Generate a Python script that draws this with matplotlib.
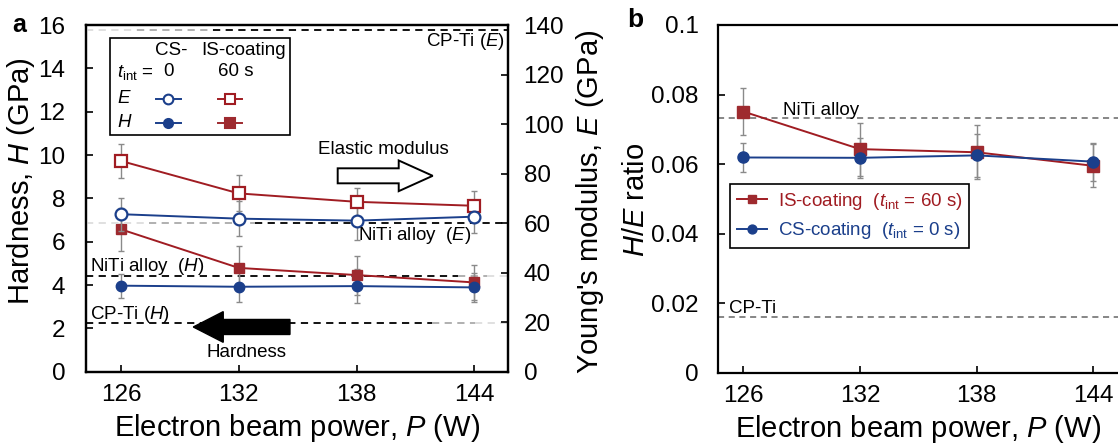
import matplotlib
matplotlib.use("Agg")
import matplotlib.pyplot as plt
from matplotlib.patches import FancyArrow, Rectangle
from matplotlib.lines import Line2D

plt.rcParams['font.family'] = ['Liberation Sans', 'DejaVu Sans']
plt.rcParams['mathtext.fontset'] = 'custom'
plt.rcParams['mathtext.rm'] = 'Liberation Sans'
plt.rcParams['mathtext.it'] = 'Liberation Sans:italic'
plt.rcParams['mathtext.bf'] = 'Liberation Sans:bold'

# ---------------- data ----------------
power = [126, 132, 138, 144]
E_is = [85.1, 72.0, 68.6, 67.0]
E_is_err = [6.8, 7.3, 5.6, 6.1]
E_cs = [63.6, 61.8, 61.0, 62.6]
E_cs_err = [6.7, 7.0, 7.8, 6.7]
H_is = [6.57, 4.79, 4.46, 4.12]
H_is_err = [1.0, 1.0, 0.9, 0.8]
H_cs = [3.97, 3.92, 3.95, 3.89]
H_cs_err = [0.55, 0.7, 0.8, 0.66]
HE_is = [0.0751, 0.0643, 0.0634, 0.0595]
HE_is_err = [0.0068, 0.0076, 0.0077, 0.0062]
HE_cs = [0.0619, 0.0618, 0.0625, 0.0607]
HE_cs_err = [0.0042, 0.0057, 0.0061, 0.0055]
ref_E = {'CP-Ti': 138, 'NiTi alloy': 60}
ref_H = {'NiTi alloy': 4.43, 'CP-Ti': 2.23}
ref_HE = {'NiTi alloy': 0.0732, 'CP-Ti': 0.0159}
H_ticks = [0, 2, 4, 6, 8, 10, 12, 14, 16]
E_ticks = [0, 20, 40, 60, 80, 100, 120, 140]
HE_ticks = [0, 0.02, 0.04, 0.06, 0.08, 0.1]
HE_ticklabels = ['0', '0.02', '0.04', '0.06', '0.08', '0.1']

RED = '#A01C22'
RED_F = '#9E2A2F'
BLUE = '#1B3F8B'
GRAY = '#8a8a8a'
TICK_FS = 17.5
LAB_FS = 21
ANN_FS = 13.5

fig = plt.figure(figsize=(11.18, 4.43), dpi=100)
axA = fig.add_axes([86/1118, (443-371.7)/443, 422.3/1118, 346.7/443])
axE = axA.twinx()
axB = fig.add_axes([718.3/1118, (443-372.7)/443, (1118-718.3)/1118, 347.7/443])

# ---------------- panel a ----------------
axA.set_xlim(124.22, 145.73)
axA.set_ylim(0, 16)
axE.set_ylim(0, 140)


def dashed(ax, y, segs, lw=1.3):
    for x0, x1, c in segs:
        ax.axhline(y, xmin=x0, xmax=x1, color=c, ls=(0, (4, 3)), lw=lw, zorder=1)


dashed(axE, ref_E['CP-Ti'], [(0, 0.12, '#dddddd'), (0.12, 0.3, '#aaaaaa'), (0.3, 1, 'black')])
dashed(axE, ref_E['NiTi alloy'], [(0, 0.15, '#dddddd'), (0.15, 0.4, '#aaaaaa'), (0.4, 1, 'black')])
dashed(axA, ref_H['NiTi alloy'], [(0, 0.88, 'black'), (0.88, 0.95, '#aaaaaa'), (0.95, 1, '#dddddd')])
dashed(axA, ref_H['CP-Ti'], [(0, 0.82, 'black'), (0.82, 0.92, '#aaaaaa'), (0.92, 1, '#dddddd')])

ekw = dict(fmt='none', ecolor=GRAY, elinewidth=1.0, capsize=2.5, capthick=1.0, zorder=2)
axA.errorbar(power, H_is, yerr=H_is_err, **ekw)
axA.errorbar(power, H_cs, yerr=H_cs_err, **ekw)
axE.errorbar(power, E_is, yerr=E_is_err, **ekw)
axE.errorbar(power, E_cs, yerr=E_cs_err, **ekw)

axA.plot(power, H_is, color=RED, lw=1.4, marker='s', ms=7.5, mfc=RED_F, mec=RED_F, zorder=3)
axA.plot(power, H_cs, color=BLUE, lw=1.4, marker='o', ms=7.5, mfc=BLUE, mec=BLUE, zorder=3)
axE.plot(power, E_is, color=RED, lw=1.4, marker='s', ms=9, mfc='white', mec=RED, mew=1.6, zorder=3)
axE.plot(power, E_cs, color=BLUE, lw=1.4, marker='o', ms=8.5, mfc='white', mec=BLUE, mew=1.6, zorder=3)

axA.set_xticks(power)
axA.set_yticks(H_ticks)
axE.set_yticks(E_ticks)
for ax in (axA, axE):
    ax.tick_params(direction='in', length=5, width=1.2, labelsize=TICK_FS)
axA.tick_params(axis='y', pad=15)
axA.tick_params(axis='x', pad=9)
axE.tick_params(axis='y', pad=11)
axA.tick_params(top=False)
for ax in (axA, axE):
    for s in ax.spines.values():
        s.set_linewidth(1.6)

axA.set_xlabel('Electron beam power, $P$ (W)', fontsize=LAB_FS, labelpad=4)
axA.set_ylabel('Hardness, $H$ (GPa)', fontsize=LAB_FS)
axA.yaxis.set_label_coords(-0.117, 0.55)
axE.set_ylabel("Young's modulus, $E$ (GPa)", fontsize=LAB_FS, rotation=90)
axE.yaxis.set_label_coords(1.155, 0.49)

# annotations
axE.text(0.992, 0.952, 'CP-Ti ($E$)', transform=axA.transAxes, ha='right', va='center', fontsize=ANN_FS)
axE.text(0.913, 0.394, 'NiTi alloy  ($E$)', transform=axA.transAxes, ha='right', va='center', fontsize=ANN_FS, zorder=5)
axE.text(0.0095, 0.303, 'NiTi alloy  ($H$)', transform=axA.transAxes, ha='left', va='center', fontsize=ANN_FS)
axE.text(0.0095, 0.166, 'CP-Ti ($H$)', transform=axA.transAxes, ha='left', va='center', fontsize=ANN_FS)
axE.text(0.703, 0.641, 'Elastic modulus', transform=axA.transAxes, ha='center', va='center', fontsize=ANN_FS)
axE.text(0.379, 0.056, 'Hardness', transform=axA.transAxes, ha='center', va='center', fontsize=ANN_FS)

axE.add_patch(FancyArrow(0.596, 0.565, 0.225, 0, width=0.0433, head_width=0.0885, head_length=0.0805,
                         length_includes_head=True, transform=axA.transAxes, facecolor='white',
                         edgecolor='black', lw=1.4, zorder=4))
axE.add_patch(FancyArrow(0.483, 0.129, -0.229, 0, width=0.0433, head_width=0.0885, head_length=0.071,
                         length_includes_head=True, transform=axA.transAxes, facecolor='black',
                         edgecolor='black', lw=1.0, zorder=4))

# custom legend for panel a
LEG_FS = 13.5
axE.add_patch(Rectangle((0.0568, 0.683), 0.483-0.0568, 0.962-0.683, transform=axA.transAxes,
                        facecolor='white', edgecolor='black', lw=1.2, zorder=6))
tr = axA.transAxes
axE.text(0.203, 0.926, 'CS-', transform=tr, ha='center', va='center', fontsize=LEG_FS, zorder=7)
axE.text(0.372, 0.926, 'IS-coating', transform=tr, ha='center', va='center', fontsize=LEG_FS, zorder=7)
axE.text(0.0727, 0.862, r'$t_{\mathrm{int}}$ =', transform=tr, ha='left', va='center', fontsize=LEG_FS, zorder=7)
axE.text(0.195, 0.865, '0', transform=tr, ha='center', va='center', fontsize=LEG_FS, zorder=7)
axE.text(0.355, 0.865, '60 s', transform=tr, ha='center', va='center', fontsize=LEG_FS, zorder=7)
axE.text(0.0734, 0.787, '$E$', transform=tr, ha='left', va='center', fontsize=LEG_FS, zorder=7)
axE.text(0.0734, 0.718, '$H$', transform=tr, ha='left', va='center', fontsize=LEG_FS, zorder=7)
for xc, yc, col, mk, mfc, ms in [(0.195, 0.787, BLUE, 'o', 'white', 7),
                                 (0.341, 0.787, RED, 's', 'white', 7.5),
                                 (0.195, 0.718, BLUE, 'o', BLUE, 6.5),
                                 (0.341, 0.718, RED_F, 's', RED_F, 6.5)]:
    axE.add_line(Line2D([xc-0.029, xc+0.029], [yc, yc], color=col, lw=1.4, transform=tr, zorder=7))
    axE.add_line(Line2D([xc], [yc], marker=mk, ms=ms, mfc=mfc, mec=col, mew=1.5, color=col,
                        transform=tr, zorder=8))

# ---------------- panel b ----------------
axB.set_xlim(124.71, 145.27)
axB.set_ylim(0, 0.1)
for key, y in ref_HE.items():
    axB.axhline(y, color='#666666', ls=(0, (4, 3)), lw=1.1, zorder=1)
axB.text(0.161, 0.755, 'NiTi alloy', transform=axB.transAxes, ha='left', va='center', fontsize=ANN_FS)
axB.text(0.0275, 0.185, 'CP-Ti', transform=axB.transAxes, ha='left', va='center', fontsize=ANN_FS)

axB.errorbar(power, HE_is, yerr=HE_is_err, **ekw)
axB.errorbar(power, HE_cs, yerr=HE_cs_err, **ekw)
l1, = axB.plot(power, HE_is, color=RED, lw=1.4, marker='s', ms=8, mfc=RED_F, mec=RED_F, zorder=3,
               label=r'IS-coating  ($t_{\mathrm{int}}$ = 60 s)')
l2, = axB.plot(power, HE_cs, color=BLUE, lw=1.4, marker='o', ms=8, mfc=BLUE, mec=BLUE, zorder=3,
               label=r'CS-coating  ($t_{\mathrm{int}}$ = 0 s)')
leg = axB.legend(handles=[l1, l2], loc='upper left', bbox_to_anchor=(0.0293, 0.542), borderaxespad=0,
                 fancybox=False, edgecolor='black', framealpha=1, fontsize=ANN_FS, handlelength=1.6,
                 handletextpad=0.6, borderpad=0.35, labelspacing=0.45, markerscale=0.8)
leg.get_frame().set_linewidth(1.2)
for t, c in zip(leg.get_texts(), [RED, BLUE]):
    t.set_color(c)

axB.set_xticks(power)
axB.set_yticks(HE_ticks)
axB.set_yticklabels(HE_ticklabels)
axB.tick_params(direction='in', length=5, width=1.2, labelsize=TICK_FS)
axB.tick_params(axis='y', pad=14)
axB.tick_params(axis='x', pad=9)
for s in axB.spines.values():
    s.set_linewidth(1.6)
axB.spines['right'].set_visible(False)
axB.set_xlabel('Electron beam power, $P$ (W)', fontsize=LAB_FS, labelpad=4)
axB.set_ylabel('$H$/$E$ ratio', fontsize=LAB_FS)
axB.yaxis.set_label_coords(-0.170, 0.497)

fig.text(0.011, 0.944, 'a', fontsize=18, fontweight='bold', va='center', ha='left')
fig.text(0.561, 0.955, 'b', fontsize=19, fontweight='bold', va='center', ha='left')

fig.savefig('out.png', dpi=100)
